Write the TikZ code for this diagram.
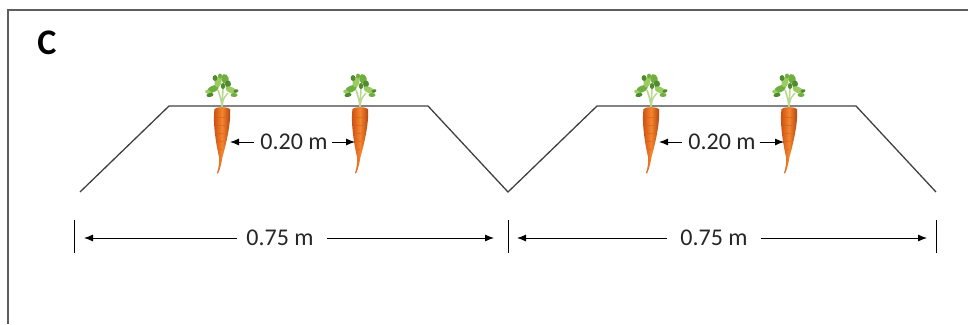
\documentclass[tikz,border=0pt]{standalone}
\usepackage{fontspec}
\setmainfont{Carlito}
\usetikzlibrary{arrows.meta}
\definecolor{framegray}{HTML}{5E5E5E}
\definecolor{ridge}{HTML}{404040}
\definecolor{carrotlight}{HTML}{F4862E}
\definecolor{carrotdark}{HTML}{C9490F}
\definecolor{leafdark}{HTML}{4E8C2E}
\definecolor{leafmid}{HTML}{6FAE3F}
\definecolor{leaflight}{HTML}{9CCB62}
\definecolor{stemgreen}{HTML}{B9D88F}
\tikzset{
  frameline/.style={draw=framegray, line width=1.4pt},
  ridgeline/.style={draw=ridge, line width=1.3pt, line join=miter},
  tickline/.style={draw=black, line width=1pt},
  dimarrow/.style={draw=black, line width=0.9pt, -{Latex[length=9pt,width=7pt]}},
  dimlabel/.style={font=\fontsize{24}{28}\selectfont, inner sep=0pt, text=black!85},
  carrot/.pic={
    % leafy top
    \draw[stemgreen, line width=1.6pt] (0,0) .. controls (-1,-8) .. (-4,-17);
    \draw[stemgreen, line width=1.6pt] (0,0) -- (1,-19);
    \draw[stemgreen, line width=1.4pt] (0,0) .. controls (1,-8) .. (6,-14);
    \fill[leafmid]   (-9,-18) ellipse [x radius=6.5, y radius=3.2, rotate=25];
    \fill[leaflight] (-14,-15) ellipse [x radius=3, y radius=1.8, rotate=-20];
    \fill[leafdark]  (-12,-12) ellipse [x radius=3.5, y radius=2, rotate=10];
    \fill[leaflight] (-4,-25) ellipse [x radius=3.6, y radius=5.5, rotate=-15];
    \fill[leafdark]  (-7,-29) ellipse [x radius=2.4, y radius=3];
    \fill[leafmid]   (-2,-31) ellipse [x radius=2, y radius=2.5];
    \fill[leafmid]   (3,-28) ellipse [x radius=3.8, y radius=5, rotate=15];
    \fill[leafdark]  (6,-23) ellipse [x radius=3, y radius=3.5];
    \fill[leaflight] (9,-17) ellipse [x radius=6, y radius=3, rotate=-25];
    \fill[leafmid]   (12,-12) ellipse [x radius=3.5, y radius=2];
    \fill[leafdark]  (14,-16) ellipse [x radius=2.5, y radius=1.6, rotate=20];
    \fill[leafdark]  (1,-21) ellipse [x radius=2.2, y radius=3];
    \draw[stemgreen, line width=1.3pt] (0,0) -- (0,-9);
    % root
    \shade[left color=carrotdark, right color=carrotdark!85!black, middle color=carrotlight]
      (-7.5,2) .. controls (-9,12) and (-7.5,30) .. (-3,50)
             .. controls (-2.5,55) and (-3,60) .. (-5,66)
             -- (-4,66.5)
             .. controls (-1.5,61) and (-0.5,56) .. (0.5,50)
             .. controls (5.5,32) and (9,14) .. (8,2)
             .. controls (5,-0.5) and (-5,-0.5) .. cycle;
    \foreach \yy/\ww in {10/5, 18/5, 26/4, 34/3.5, 42/2.5}
      \draw[carrotdark!80!black, opacity=0.35, line width=0.5pt]
        (-\ww,\yy) -- (\ww-2,\yy+0.8);
  }
}
\begin{document}
\begin{tikzpicture}[x=1pt, y=-1pt]
  \useasboundingbox (0,0) rectangle (968,324);

  % panel frame
  \draw[frameline] (968,10) -- (8,10) -- (8,324);
  \node[font=\fontsize{36}{40}\selectfont\bfseries, inner sep=0pt] (panel) at (47,43) {C};

  % raised beds
  \draw[ridgeline] (80,192) -- (169,106) -- (428,106) -- (508,192)
                   -- (597,106) -- (856,106) -- (936,192);

  % carrots on the beds
  \pic at (222,107) {carrot};
  \pic at (360,107) {carrot};
  \pic at (651,107) {carrot};
  \pic at (789,107) {carrot};

  % plant spacing
  \node[dimlabel] (sp1) at (294,142) {0.20 m};
  \coordinate (sp1l) at (230,142);
  \coordinate (sp1r) at (355,142);
  \draw[dimarrow] ([xshift=-6pt]sp1.west) -- (sp1l);
  \draw[dimarrow] ([xshift=4pt]sp1.east) -- (sp1r);

  \node[dimlabel] (sp2) at (722,142) {0.20 m};
  \coordinate (sp2l) at (659,142);
  \coordinate (sp2r) at (784,142);
  \draw[dimarrow] ([xshift=-6pt]sp2.west) -- (sp2l);
  \draw[dimarrow] ([xshift=4pt]sp2.east) -- (sp2r);

  % bed width ticks
  \coordinate (t1a) at (74,220);  \coordinate (t1b) at (74,253);
  \coordinate (t2a) at (508,220); \coordinate (t2b) at (508,253);
  \coordinate (t3a) at (936,220); \coordinate (t3b) at (936,253);
  \draw[tickline] (t1a) -- (t1b);
  \draw[tickline] (t2a) -- (t2b);
  \draw[tickline] (t3a) -- (t3b);

  % bed widths
  \node[dimlabel] (w1) at (280,238) {0.75 m};
  \coordinate (w1l) at (84,238);
  \coordinate (w1r) at (494,238);
  \draw[dimarrow] ([xshift=-9pt]w1.west) -- (w1l);
  \draw[dimarrow] ([xshift=13pt]w1.east) -- (w1r);

  \node[dimlabel] (w2) at (714,238) {0.75 m};
  \coordinate (w2l) at (517,238);
  \coordinate (w2r) at (927,238);
  \draw[dimarrow] ([xshift=-13pt]w2.west) -- (w2l);
  \draw[dimarrow] ([xshift=13pt]w2.east) -- (w2r);
\end{tikzpicture}
\end{document}
